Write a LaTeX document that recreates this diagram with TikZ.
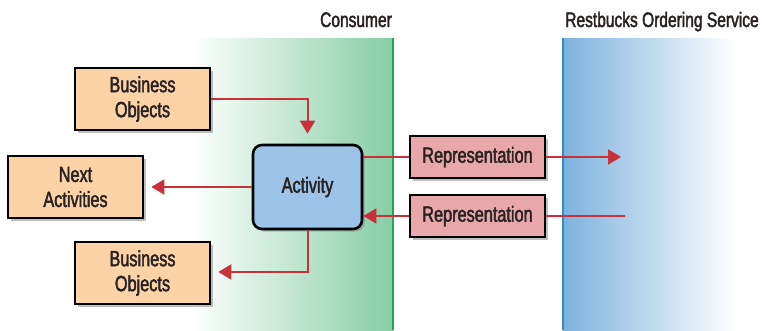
\documentclass[tikz,border=0pt]{standalone}
\usepackage{fontspec}
\setmainfont[FakeStretch=0.74,FakeBold=2]{Liberation Sans}
\usetikzlibrary{arrows.meta,shadows}
\definecolor{arrred}{HTML}{C8303A}
\definecolor{orangefill}{HTML}{FCD3A6}
\definecolor{bluefill}{HTML}{9CC4E8}
\definecolor{pinkfill}{HTML}{E8A7AA}
\definecolor{greenline}{HTML}{22A558}
\definecolor{greenshade}{HTML}{86CDA5}
\definecolor{blueline}{HTML}{3A88CC}
\definecolor{blueshade}{HTML}{7DB2DE}
\definecolor{textcol}{HTML}{2A2222}
\tikzset{
  x=1pt, y=-1pt,
  box/.style={draw=black, line width=2.6pt, align=center, text=textcol, font=\fontsize{22}{25}\selectfont,
    inner sep=0pt, drop shadow={shadow xshift=2.5pt, shadow yshift=-2.5pt, opacity=0.5}},
  objbox/.style={box, fill=orangefill, minimum width=135pt, minimum height=62pt},
  actbox/.style={box, fill=bluefill, rounded corners=9pt, minimum width=109pt, minimum height=84pt},
  repbox/.style={box, fill=pinkfill, minimum width=135pt, minimum height=42pt},
  flow/.style={draw=arrred, line width=2pt, -{Triangle[length=13pt,width=15pt]}},
  flowplain/.style={draw=arrred, line width=2pt},
  lanelabel/.style={font=\fontsize{21}{23}\selectfont, text=textcol, anchor=base}
}
\begin{document}
\begin{tikzpicture}
\useasboundingbox (0,0) rectangle (763,330);
% consumer lane
\shade[left color=white, right color=greenshade] (190,38) rectangle (393,330);
\draw[greenline, line width=2.5pt] (393,38) -- (393,330);
% service lane
\shade[left color=blueshade, right color=white] (563,38) rectangle (735,330);
\draw[blueline, line width=2.5pt] (563,38) -- (563,330);
\node[lanelabel] (consumer) at (356,27) {Consumer};
\node[lanelabel] (service) at (662,27) {Restbucks Ordering Service};
% nodes
\node[objbox] (bo1) at (142.5,99) {Business\\Objects};
\node[objbox] (next) at (75.5,187) {Next\\Activities};
\node[objbox] (bo2) at (142.5,273) {Business\\Objects};
\node[actbox] (act) at (307.5,187) {Activity};
\node[repbox] (rep1) at (477.5,157) {Representation};
\node[repbox] (rep2) at (477.5,216) {Representation};
\coordinate (out) at (621,157);
\coordinate (in) at (625,216);
% connectors
\draw[flow] (bo1.east |- 0,99) -| ([yshift=10pt]act.north);
\draw[flow] (act.west) -- ([xshift=7pt]next.east);
\draw[flow] (act.south) |- ([xshift=7pt]bo2.east |- 0,272);
\draw[flowplain] (act.east |- 0,157) -- (rep1.west);
\draw[flow] (rep1.east) -- (out);
\draw[flowplain] (in) -- (rep2.east);
\draw[flow] (rep2.west) -- (act.east |- 0,216);
\end{tikzpicture}
\end{document}
